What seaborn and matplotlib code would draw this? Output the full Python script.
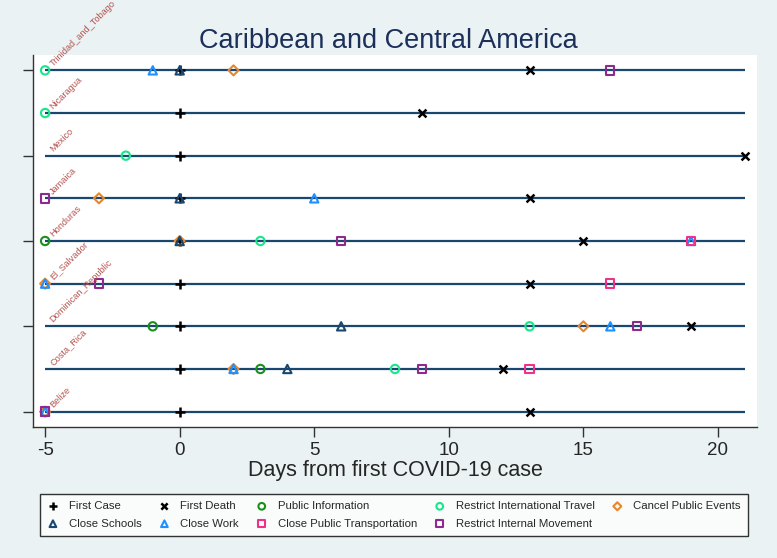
import seaborn as sns
import pandas as pd
import matplotlib.pyplot as plt

# Datos: dias desde el primer caso, por pais (None = sin medida)
countries = ["Belize", "Costa_Rica", "Dominican_Republic", "El_Salvador", "Honduras",
             "Jamaica", "Mexico", "Nicaragua", "Trinidad_and_Tobago"]

first_case = [0, 0, 0, 0, 0, 0, 0, 0, 0]
first_death = [13, 12, 19, 13, 15, 13, 21, 9, 13]
public_information = [None, 3, -1, None, -5, None, None, None, None]
restrict_intl_travel = [None, 8, 13, None, 3, None, -2, -5, -5]
cancel_public_events = [-5, 2, 15, -5, 0, -3, None, None, 2]
close_schools = [None, 4, 6, None, 0, 0, None, None, 0]
close_work = [-5, 2, 16, -5, 19, 5, None, None, -1]
close_public_transport = [-5, 13, None, 16, 19, None, None, None, None]
restrict_internal_movement = [-5, 9, 17, -3, 6, -5, None, None, 16]

measures = [
    ("First Case", first_case, "+", "black"),
    ("First Death", first_death, "x", "black"),
    ("Public Information", public_information, "o", "#1b8f1b"),
    ("Restrict International Travel", restrict_intl_travel, "o", "#19e58c"),
    ("Cancel Public Events", cancel_public_events, "D", "#e8862a"),
    ("Close Schools", close_schools, "^", "#1a476f"),
    ("Close Work", close_work, "^", "#1e90ff"),
    ("Close Public Transportation", close_public_transport, "s", "#f0308a"),
    ("Restrict Internal Movement", restrict_internal_movement, "s", "#8e2a8e"),
]

rows = []
for name, values, _, _ in measures:
    for i, (c, v) in enumerate(zip(countries, values)):
        if v is not None:
            rows.append({"Country": c, "pos": i + 1, "Measure": name, "Day": v})
df = pd.DataFrame(rows)

sns.set_style("white")
plt.rcParams["font.family"] = ["Liberation Sans", "DejaVu Sans"]
plt.rcParams["axes.unicode_minus"] = False

bg = "#eaf2f3"
fig = plt.figure(figsize=(7.77, 5.58), dpi=100, facecolor=bg)
ax = fig.add_axes([33 / 777, 1 - 427 / 558, (757 - 33) / 777, (427 - 55) / 558])
ax.set_facecolor("white")

# Lineas horizontales por pais
ypos = list(range(1, len(countries) + 1))
ax.hlines(ypos, -5, 21, color="#1a476f", lw=1.6, zorder=1)

# Etiquetas de pais
for y, c in zip(ypos, countries):
    ax.text(-4.65, y + 0.05, c, rotation=45, rotation_mode="anchor", ha="left",
            va="bottom", fontsize=6.6, color="#b5534f", zorder=4)

# Marcadores por medida
for name, _, marker, color in measures:
    sub = df[df["Measure"] == name]
    if marker in ("+", "x"):
        size = 60 if marker == "+" else 32
        sns.scatterplot(data=sub, x="Day", y="pos", marker=marker, color=color,
                        s=size, linewidth=1.8, label=name, ax=ax, zorder=3)
    else:
        size = 26 if marker == "D" else 36
        sns.scatterplot(data=sub, x="Day", y="pos", marker=marker, facecolor="none",
                        edgecolor=color, color=color, s=size, linewidth=1.5,
                        label=name, ax=ax, zorder=3)

ax.set_xlim(-5.45, 21.45)
ax.set_ylim(0.64, 9.36)
ax.set_xticks([-5, 0, 5, 10, 15, 20])
ax.set_yticks([1, 3, 5, 7, 9])
ax.set_yticklabels([])
ax.tick_params(axis="both", length=7, width=1, color="#333333", labelsize=13.5)
ax.tick_params(axis="both", which="both", bottom=True, left=True)
ax.set_ylabel("")
ax.set_xlabel("Days from first COVID-19 case", fontsize=15.5, labelpad=1)
for side in ["top", "right"]:
    ax.spines[side].set_visible(False)
for side in ["left", "bottom"]:
    ax.spines[side].set_color("#333333")
    ax.spines[side].set_linewidth(1)

fig.suptitle("Caribbean and Central America", y=0.95, fontsize=19.5, color="#1c2f5a")

# Leyenda en el orden de la referencia
handles, labels = ax.get_legend_handles_labels()
order = [0, 5, 1, 6, 2, 7, 3, 8, 4]
if ax.get_legend():
    ax.get_legend().remove()
leg = fig.legend([handles[i] for i in order], [labels[i] for i in order],
                 loc="center", bbox_to_anchor=(394 / 777, 1 - 515 / 558), ncol=5,
                 fontsize=8.2, frameon=True, fancybox=False, edgecolor="black",
                 markerscale=0.8, handlelength=1, handletextpad=0.9,
                 columnspacing=1.5, borderpad=0.6, labelspacing=0.65)
leg.get_frame().set_linewidth(1)

fig.savefig("out.png", dpi=100, facecolor=bg)
